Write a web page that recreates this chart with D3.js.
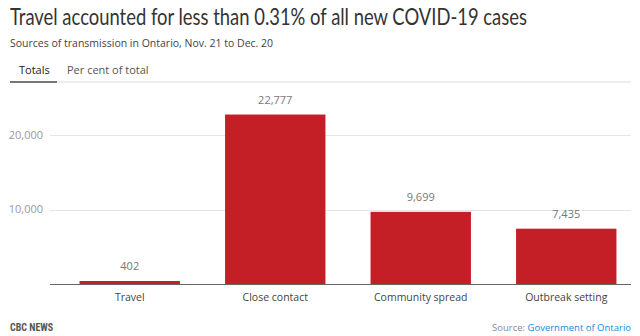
<!DOCTYPE html>
<html>
<head>
<meta charset="utf-8">
<script src="https://cdn.jsdelivr.net/npm/d3@7"></script>
<style>
  body { margin: 0; background: #fff; }
  svg { display: block; font-family: "Open Sans", sans-serif; }
</style>
</head>
<body>
<div id="chart"></div>
<script>
// Sources of transmission, Ontario, Nov. 21 to Dec. 20
const categories = ['Travel', 'Close contact', 'Community spread', 'Outbreak setting'];
const cases = [402, 22777, 9699, 7435];
const yTicks = [10000, 20000];
const tabs = ['Totals', 'Per cent of total'];

const width = 640, height = 336;
const svg = d3.select('#chart').append('svg')
  .attr('width', width)
  .attr('height', height);

// Header - the original title face is narrow, so squeeze Lato horizontally
const title = svg.append('text')
  .attr('font-family', 'Lato, sans-serif')
  .attr('font-size', 23)
  .attr('fill', '#333')
  .text('Travel accounted for less than 0.31% of all new COVID-19 cases');
const titleW = title.node().getComputedTextLength();
title.attr('transform', `translate(10,25) scale(${517 / titleW},1)`);

svg.append('text')
  .attr('x', 10).attr('y', 47)
  .attr('font-size', 10.5)
  .attr('fill', '#444')
  .text('Sources of transmission in Ontario, Nov. 21 to Dec. 20');

// Tabs
svg.append('line')
  .attr('x1', 10).attr('x2', 631).attr('y1', 82).attr('y2', 82)
  .attr('stroke', '#ddd');
svg.append('line')
  .attr('x1', 10).attr('x2', 57).attr('y1', 82).attr('y2', 82)
  .attr('stroke', '#777').attr('stroke-width', 2);
svg.append('text')
  .attr('x', 19).attr('y', 74)
  .attr('font-size', 11).attr('fill', '#222')
  .text(tabs[0]);
svg.append('text')
  .attr('x', 67).attr('y', 74)
  .attr('font-size', 11).attr('fill', '#555')
  .text(tabs[1]);

// Scales
const plot = { left: 50, right: 631, top: 98, bottom: 284 };
const x = d3.scaleBand()
  .domain(categories)
  .range([57, 639])
  .paddingInner(0.31)
  .paddingOuter(0.155);
const y = d3.scaleLinear()
  .domain([0, 25000])
  .range([plot.bottom, plot.top]);

// Gridlines + y labels
const yAxis = svg.append('g');
yAxis.selectAll('line')
  .data(yTicks)
  .enter().append('line')
  .attr('x1', plot.left).attr('x2', plot.right)
  .attr('y1', d => Math.round(y(d)) + 0.5)
  .attr('y2', d => Math.round(y(d)) + 0.5)
  .attr('stroke', '#e5e5e5');
yAxis.selectAll('text')
  .data(yTicks)
  .enter().append('text')
  .attr('x', 43)
  .attr('y', d => y(d))
  .attr('dy', '0.35em')
  .attr('text-anchor', 'end')
  .attr('font-size', 11)
  .attr('fill', '#999')
  .text(d => d3.format(',')(d));

// Bars
svg.append('g').selectAll('rect')
  .data(cases)
  .enter().append('rect')
  .attr('x', (d, i) => x(categories[i]))
  .attr('width', x.bandwidth())
  .attr('y', d => y(d))
  .attr('height', d => y(0) - y(d))
  .attr('fill', '#c41f27');

// Value labels
svg.append('g').selectAll('text')
  .data(cases)
  .enter().append('text')
  .attr('x', (d, i) => x(categories[i]) + x.bandwidth() / 2)
  .attr('y', d => y(d) - 11)
  .attr('text-anchor', 'middle')
  .attr('font-size', 11)
  .attr('fill', '#777')
  .text(d => d3.format(',')(d));

// Baseline
svg.append('line')
  .attr('x1', plot.left).attr('x2', plot.right)
  .attr('y1', plot.bottom + 0.5).attr('y2', plot.bottom + 0.5)
  .attr('stroke', '#666');

// Category labels
svg.append('g').selectAll('text')
  .data(categories)
  .enter().append('text')
  .attr('x', d => x(d) + x.bandwidth() / 2)
  .attr('y', 301)
  .attr('text-anchor', 'middle')
  .attr('font-size', 10.5)
  .attr('fill', '#444')
  .text(d => d);

// Footer
svg.append('text')
  .attr('x', 10).attr('y', 331)
  .attr('font-family', '"Roboto Condensed", "Liberation Sans Narrow", Roboto, sans-serif')
  .attr('font-weight', 700)
  .attr('font-size', 10)
  .attr('fill', '#555')
  .text('CBC NEWS');

const src = svg.append('text')
  .attr('x', 631).attr('y', 331)
  .attr('text-anchor', 'end')
  .attr('font-size', 9.5);
src.append('tspan').attr('fill', '#888').text('Source: ');
src.append('tspan').attr('fill', '#1a8ad4').text('Government of Ontario');
</script>
</body>
</html>
